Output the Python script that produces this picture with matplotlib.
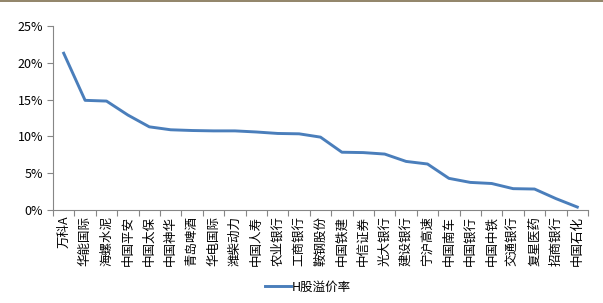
import numpy as np
import matplotlib
matplotlib.use("Agg")
import matplotlib.pyplot as plt
from matplotlib.ticker import FuncFormatter, FixedLocator

plt.rcParams['font.family'] = ['Noto Sans CJK SC', 'DejaVu Sans']

# data
names = ['万科A', '华能国际', '海螺水泥', '中国平安', '中国太保', '中国神华', '青岛啤酒',
         '华电国际', '潍柴动力', '中国人寿', '农业银行', '工商银行', '鞍钢股份', '中国铁建',
         '中信证券', '光大银行', '建设银行', '宁沪高速', '中国南车', '中国银行', '中国中铁',
         '交通银行', '复星医药', '招商银行', '中国石化']
premium = [21.3, 14.9, 14.8, 12.9, 11.3, 10.9, 10.8, 10.75, 10.75, 10.6, 10.4, 10.35,
           9.9, 7.85, 7.8, 7.6, 6.6, 6.25, 4.3, 3.75, 3.6, 2.9, 2.85, 1.55, 0.4]
yticks = [0, 5, 10, 15, 20, 25]

axis_col = '#868686'
line_col = '#4a7ebb'

fig = plt.figure(figsize=(6.03, 3.03), dpi=100)
ax = fig.add_axes([53/603, 1-210/303, (588-53)/603, (210-26)/303])

x = np.arange(len(names))
ax.plot(x, premium, color=line_col, lw=2.1, solid_joinstyle='round', label='H股溢价率')

ax.set_xlim(-0.5, len(names)-0.5)
ax.set_ylim(0, 25)
ax.set_yticks(yticks)
ax.yaxis.set_major_formatter(FuncFormatter(lambda v, p: '%d%%' % v))
ax.set_xticks(x)
ax.set_xticklabels(names, rotation=90, fontsize=9, color='#000000')
ax.xaxis.set_minor_locator(FixedLocator(np.arange(-0.5, len(names), 1)))
ax.tick_params(axis='x', which='major', length=0, pad=4)
ax.tick_params(axis='x', which='minor', length=4, color=axis_col, width=0.8)
ax.tick_params(axis='y', length=4, color=axis_col, width=0.8, labelsize=9, pad=3)

for s in ['top', 'right']:
    ax.spines[s].set_visible(False)
for s in ['left', 'bottom']:
    ax.spines[s].set_color(axis_col)
    ax.spines[s].set_linewidth(0.8)

fig.legend(loc='center', bbox_to_anchor=(308/603, 1-287/303), frameon=False,
           fontsize=9, handlelength=2.1, handletextpad=0.1)

# brown border at the top
fig.add_artist(plt.Line2D([0, 1], [0.998, 0.998], transform=fig.transFigure,
                          color='#7f6f4f', lw=1.2))

fig.savefig('out.png', dpi=100)
